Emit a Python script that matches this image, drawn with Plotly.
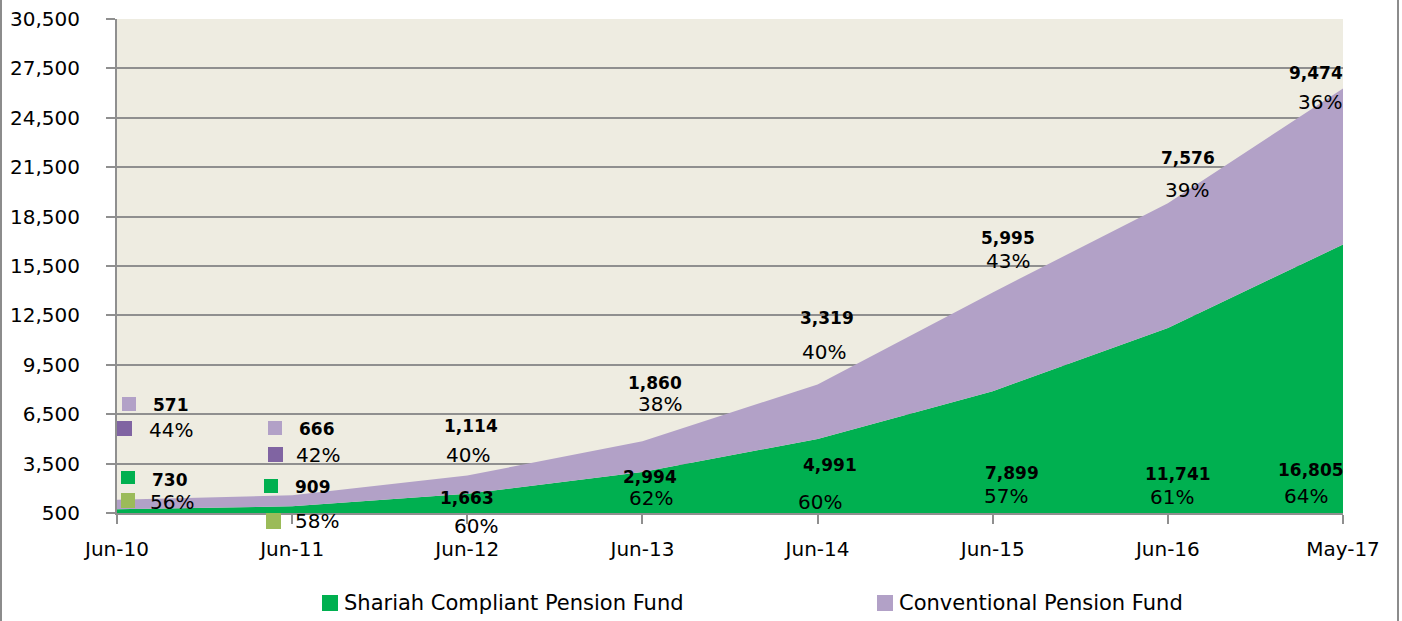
import plotly.graph_objects as go

# Data
categories = ["Jun-10", "Jun-11", "Jun-12", "Jun-13", "Jun-14", "Jun-15", "Jun-16", "May-17"]
shariah = [730, 909, 1663, 2994, 4991, 7899, 11741, 16805]
conventional = [571, 666, 1114, 1860, 3319, 5995, 7576, 9474]
shariah_pct = [56, 58, 60, 62, 60, 57, 61, 64]
conventional_pct = [44, 42, 40, 38, 40, 43, 39, 36]

GREEN = "#00B050"
LAVENDER = "#B2A1C7"
PURPLE = "#8064A2"
OLIVE = "#9BBB59"
BG = "#EEECE1"
GRID = "#8F8F8F"
FONT = "DejaVu Sans"

# plot area in pixels (left, right, top, bottom)
L, R, T, B = 117, 1343, 19, 513


def px_x(px):
    return (px - L) / (R - L)


def px_y(py):
    return (B - py) / (B - T)


x_idx = list(range(len(categories)))

fig = go.Figure()
fig.add_trace(go.Scatter(x=x_idx, y=shariah, stackgroup="one", mode="none",
                         fillcolor=GREEN, name="Shariah Compliant Pension Fund"))
fig.add_trace(go.Scatter(x=x_idx, y=conventional, stackgroup="one", mode="none",
                         fillcolor=LAVENDER, name="Conventional Pension Fund"))

# label placement: (x shift in px from category, y in px)
conv_val_pos = [(54, 405), (25, 429), (4, 426), (13, 383), (9, 318), (15, 238), (20, 158), (-27, 73)]
conv_pct_pos = [(54, 430), (26, 455), (1, 455), (18, 404), (6, 352), (15, 261), (19, 190), (-23, 102)]
shar_val_pos = [(53, 480), (21, 487), (0, 498), (8, 477), (12, 465), (19, 473), (10, 474), (-32, 470)]
shar_pct_pos = [(55, 502), (25, 521), (9, 526), (9, 498), (2, 502), (13, 496), (4, 497), (-37, 496)]

annotations = []
for i in x_idx:
    for txt, (dx, py), bold in [
        (f"{conventional[i]:,}", conv_val_pos[i], True),
        (f"{conventional_pct[i]}%", conv_pct_pos[i], False),
        (f"{shariah[i]:,}", shar_val_pos[i], True),
        (f"{shariah_pct[i]}%", shar_pct_pos[i], False),
    ]:
        annotations.append(dict(
            x=i, xref="x", xshift=dx, y=px_y(py), yref="paper",
            text=f"<b>{txt}</b>" if bold else txt, showarrow=False,
            font=dict(family=FONT, size=17 if bold else 20, color="#000000"),
            xanchor="center", yanchor="middle"))

# legend (manual)
legend_items = [("Shariah Compliant Pension Fund", GREEN, 322), ("Conventional Pension Fund", LAVENDER, 877)]
shapes = []
for name, col, px in legend_items:
    shapes.append(dict(type="rect", xref="paper", yref="paper",
                       x0=px_x(px), x1=px_x(px + 16), y0=px_y(611), y1=px_y(595),
                       fillcolor=col, line=dict(width=0)))
    annotations.append(dict(x=px_x(px + 20), y=px_y(603), xref="paper", yref="paper",
                            text=name, showarrow=False, xanchor="left", yanchor="middle",
                            font=dict(family=FONT, size=21, color="#000000")))

# small legend keys beside the first labels
key_boxes = [
    (122, 136, 397, 411, LAVENDER), (117, 132, 421, 436, PURPLE),
    (121, 135, 471, 484, GREEN), (121, 135, 493, 508, OLIVE),
    (268, 282, 421, 435, LAVENDER), (268, 283, 447, 462, PURPLE),
    (264, 278, 479, 493, GREEN), (266, 281, 513, 529, OLIVE),
]
for x0, x1, y0, y1, col in key_boxes:
    shapes.append(dict(type="rect", xref="paper", yref="paper",
                       x0=px_x(x0), x1=px_x(x1), y0=px_y(y1), y1=px_y(y0),
                       fillcolor=col, line=dict(width=0), layer="above"))

# outer border (left / right)
for px in (1, 1398):
    shapes.append(dict(type="line", xref="paper", yref="paper",
                       x0=px_x(px), x1=px_x(px), y0=px_y(0), y1=px_y(621),
                       line=dict(color="#8C8C8C", width=2)))

fig.update_layout(
    width=1402, height=621,
    margin=dict(l=L, r=1402 - R, t=T, b=621 - B, autoexpand=False),
    paper_bgcolor="white", plot_bgcolor=BG,
    showlegend=False,
    annotations=annotations, shapes=shapes,
    xaxis=dict(range=[0, 7], tickvals=x_idx, ticktext=categories,
               showgrid=False, zeroline=False, automargin=False,
               showline=True, linecolor=GRID, linewidth=2,
               ticks="outside", ticklen=9, tickcolor=GRID, tickwidth=2,
               ticklabelstandoff=8,
               tickfont=dict(family=FONT, size=20, color="#000000")),
    yaxis=dict(range=[500, 30500], tick0=500, dtick=3000, tickformat=",",
               showgrid=True, gridcolor=GRID, gridwidth=1.5, zeroline=False,
               automargin=False,
               showline=True, linecolor=GRID, linewidth=2,
               ticks="outside", ticklen=9, tickcolor=GRID, tickwidth=2,
               ticklabelstandoff=22,
               tickfont=dict(family=FONT, size=20, color="#000000")),
)

fig.write_html("out.html", config={"displayModeBar": False},
               post_script="document.body.style.margin='0';")
